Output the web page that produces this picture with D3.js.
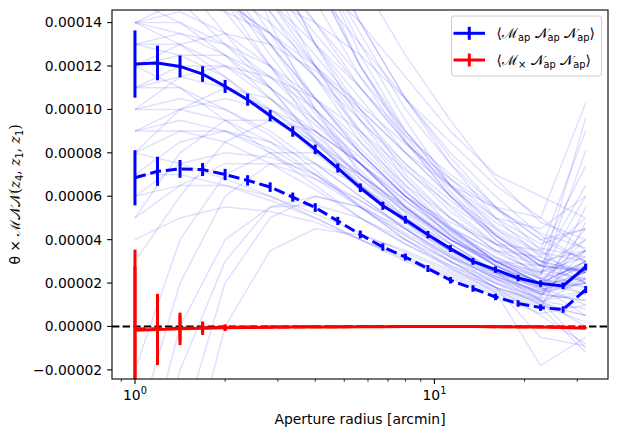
<!DOCTYPE html>
<html>
<head>
<meta charset="utf-8">
<script src="https://cdn.jsdelivr.net/npm/d3@7"></script>
<style>
  body { margin: 0; background: #fff; }
  svg { font-family: "DejaVu Sans", sans-serif; }
</style>
</head>
<body>
<svg id="chart" width="618" height="437"></svg>
<script>
// all y values are in units of 1e-5
var radii = [1, 1.189, 1.414, 1.682, 2, 2.378, 2.828, 3.364, 4, 4.757, 5.657, 6.727, 8, 9.514, 11.31, 13.45, 16, 19.03, 22.63, 26.91, 32];

var mapNN = [12.09, 12.14, 11.98, 11.63, 11.06, 10.45, 9.71, 8.98, 8.16, 7.30, 6.39, 5.56, 4.92, 4.23, 3.59, 3.00, 2.62, 2.23, 1.98, 1.87, 2.74];
var mapNNErr = [1.55, 0.80, 0.50, 0.36, 0.30, 0.28, 0.26, 0.24, 0.22, 0.21, 0.20, 0.19, 0.18, 0.17, 0.16, 0.16, 0.15, 0.15, 0.15, 0.15, 0.16];

var mapNN2 = [6.85, 7.15, 7.26, 7.23, 7.00, 6.73, 6.42, 5.96, 5.48, 4.86, 4.24, 3.66, 3.20, 2.67, 2.13, 1.75, 1.36, 1.06, 0.87, 0.78, 1.70];
var mapNN2Err = [1.27, 0.67, 0.41, 0.30, 0.26, 0.24, 0.22, 0.21, 0.20, 0.19, 0.18, 0.17, 0.16, 0.16, 0.15, 0.15, 0.15, 0.15, 0.15, 0.15, 0.16];

var mxNN = [-0.17, -0.14, -0.11, -0.08, -0.06, -0.05, -0.04, -0.03, -0.02, -0.02, -0.01, -0.01, 0, 0, 0, 0, -0.01, -0.02, -0.03, -0.05, -0.08];
var mxNNErr = [3.71, 1.64, 0.75, 0.31, 0.15, 0.06, 0.05, 0.04, 0.03, 0.03, 0.02, 0.02, 0.02, 0.02, 0.02, 0.02, 0.02, 0.02, 0.02, 0.02, 0.02];

var mxNN2 = [-0.12, -0.10, -0.08, -0.06, -0.04, -0.03, -0.02, -0.02, -0.01, -0.01, 0, 0, 0, 0, 0, 0, -0.01, -0.01, -0.02, -0.03, -0.05];
var mxNN2Err = [2.9, 1.3, 0.6, 0.25, 0.12, 0.05, 0.04, 0.03, 0.03, 0.02, 0.02, 0.02, 0.02, 0.02, 0.02, 0.02, 0.02, 0.02, 0.02, 0.02, 0.02];

// individual realisations (faint lines), sampled at every second radius
var realRadii = [1, 1.414, 2, 2.828, 4, 5.657, 8, 11.31, 16, 22.63, 32];
var realisations = [
  [25, 22, 18, 15, 12, 9, 6.5, 4.5, 3, 2, 3],
  [18, 17, 15.5, 13, 10.5, 8, 6, 4.2, 2.8, 1.8, 2.5],
  [8, 10, 11, 10.5, 9, 7.5, 5.5, 4, 3, 2.5, 3.5],
  [30, 26, 21, 17, 13, 10, 7, 5, 3.5, 2.8, 4],
  [14, 14.5, 13.5, 12, 10, 8, 6, 4.5, 3.2, 2.2, 1.5],
  [-5, 2, 6, 7.5, 7.5, 6.5, 5, 3.8, 2.5, 1.5, 2],
  [20, 19, 17, 14.5, 11.5, 8.5, 6.2, 4.5, 3.5, 3.2, 5],
  [11, 12, 12, 11, 9.5, 7.8, 6, 4.5, 3, 2, 2.2],
  [16, 15, 13, 11, 8.5, 6.5, 4.8, 3.5, 2.5, 1.8, 0.5],
  [5, 8, 9.5, 9.5, 8.5, 7, 5.5, 4, 2.8, 2, 3],
  [22, 20, 18, 16, 13.5, 11, 8.5, 6.5, 5, 4.5, 6],
  [10, 10.5, 10, 9, 7.5, 6, 4.5, 3.2, 2.2, 1.5, 1.2],
  [13, 13.5, 13, 12, 10.5, 8.5, 6.5, 5, 3.8, 3.5, 9],
  [-10, -2, 3, 5.5, 6, 5.5, 4.5, 3.3, 2.2, 1.2, 0],
  [28, 24, 19, 14, 10, 7, 5, 3.4, 2.3, 1.6, 2.5],
  [12, 12.5, 12.5, 11.5, 10, 8, 6, 4.2, 2.8, 1.8, 1],
  [17, 16.5, 15, 13.5, 11.5, 9.5, 7.5, 5.8, 4.3, 3, 2.5],
  [7, 8.5, 9, 8.5, 7.5, 6, 4.5, 3, 1.8, -0.5, -0.9],
  [19, 18, 16, 13, 10, 7.5, 5.5, 4, 3, 2.8, 6.5],
  [9, 10, 10.5, 10, 9, 7.5, 6, 4.8, 3.8, 3, 2],
  [24, 21, 18, 15, 12.5, 10, 8, 6.5, 5.5, 5, 10.3],
  [14, 14, 13, 11.5, 9.5, 7.5, 5.5, 3.8, 2.5, 1.2, -1],
  [3, 6, 8.5, 9.5, 9, 7.5, 5.8, 4.2, 3, 2.2, 2.8],
  [21, 19.5, 17, 14.5, 12, 9.5, 7.3, 5.3, 3.8, 2.8, 2.5],
  [11, 11, 10, 8.8, 7.2, 5.5, 4, 2.8, 1.8, 1.2, 1.5],
  [15, 15.5, 15, 13.5, 11.5, 9, 6.8, 5, 3.5, 2.4, 9.6],
  [-2, 4, 7, 8, 8, 7, 5.5, 4, 2.8, 2, 4.5],
  [18, 17.5, 16.5, 15, 13, 11, 8.8, 7, 5.5, 4, 3],
  [9, 9.5, 9, 8, 6.8, 5.5, 4.2, 3, 2, 1.2, 0.8],
  [26, 23, 19.5, 16, 13, 10.5, 8, 6, 4.5, 3.3, 7.4],
  [13, 13, 12, 10.5, 8.8, 7, 5.3, 3.8, 2.6, 1.7, 2],
  [6, 7.5, 8, 7.8, 7, 5.8, 4.5, 3.2, 2, 1, 0.5],
  [16, 16, 15.5, 14, 12, 9.8, 7.5, 5.5, 3.8, 2.2, 1.8],
  [10, 11.5, 12, 11.5, 10.5, 9, 7.2, 5.6, 4.2, 3, 3.5],
  [-15, -5, 2, 5, 6, 5.5, 4.2, 3, 1.8, 0.5, -0.8],
  [20, 18, 15, 12, 9, 6.8, 5, 3.5, 2.3, 1.5, 2.2],
  [12, 13, 13.5, 13, 11.8, 10, 8, 6, 4.2, 2.8, 2],
  [8, 9, 9, 8.2, 7, 5.5, 4, 2.7, 1.6, -1.8, -0.5],
  [17, 16.5, 15, 13, 10.5, 8.2, 6.2, 4.6, 3.4, 2.5, 3.2],
  [14, 13.5, 12.5, 11, 9.3, 7.5, 5.8, 4.3, 3.1, 2.3, 8.1],
  [30, 28, 25, 21, 17, 13.5, 10, 7.5, 5.5, 4, 4.5],
  [35, 32, 28, 23, 18, 14, 10.5, 7.8, 5.5, 3.5, 2],
  [22, 23, 22, 20, 17, 13, 9.5, 6.5, 4.2, 2.8, 2.5],
  [40, 34, 27, 21, 16, 12, 9, 6.5, 4.5, 3, 2.5],
  [26, 24, 21, 17, 13, 9.5, 6.8, 4.6, 3, 2, 3],
  [19, 17, 14.5, 12, 9.5, 7.2, 5.2, 3.6, 2.4, 1.6, 2],
  [15, 14, 12.5, 10.5, 8.5, 6.5, 4.8, 3.3, 2.2, 1.4, 3.5],
  [33, 27, 21, 16, 12, 8.8, 6.3, 4.4, 3, 2, 1.5],
  [12, 11, 9.5, 8, 6.5, 5, 3.8, 2.8, 2, 1.3, 5.5],
  [45, 38, 30, 23, 17, 12.5, 9, 6.5, 4.6, 3.4, 3],
  [8, 7.5, 6.8, 6, 5, 4, 3, 2.2, 1.4, 0.6, 1],
  [10, 10, 9.5, 8.5, 7, 5.6, 4.3, 3.2, 2.3, 1.6, 3],
  [17, 18, 18, 16.5, 14, 11.5, 9, 6.8, 5, 3.8, 4.5],
  [6, 6.5, 6.5, 6, 5.2, 4.3, 3.4, 2.5, 1.7, 1, 0.2],
  [21, 19, 16.5, 13.5, 10.5, 8, 6, 4.4, 3.2, 2.4, 6],
  [14, 13, 11.5, 9.8, 8, 6.3, 4.8, 3.5, 2.5, 1.8, 2.5],
  [36, 31, 25, 19.5, 15, 11.5, 8.5, 6, 4, 2.5, 1.8],
  [4, 5, 5.5, 5.3, 4.8, 4, 3.2, 2.4, 1.6, 0.9, -1.2],
  [9, 9, 8.5, 7.5, 6.3, 5, 3.8, 2.7, 1.8, 1.1, 2.2],
  [16, 17, 17.5, 17, 15.5, 13, 10.5, 8, 6, 4.2, 3],
  [20, 18, 15.5, 12.5, 9.8, 7.5, 5.6, 4.1, 3, 2.2, 3.5],
  [31, 29, 26, 22, 18, 14, 10.5, 7.5, 5, 3.2, 2.5],
  [13, 12.5, 11.5, 10, 8.4, 6.8, 5.3, 4, 2.9, 2, 4],
  [-20, -8, 0, 3.5, 4.5, 4.2, 3.5, 2.6, 1.8, 1.1, 0.5],
  [18, 16, 13.5, 11, 8.6, 6.6, 4.9, 3.5, 2.4, 1.5, 1.2],
  [11, 11.5, 11, 10, 8.6, 7, 5.4, 4, 2.8, 1.9, 2.8],
  [38, 33, 27, 21, 16, 12, 8.8, 6.2, 4.2, 2.8, 2.6],
  [7, 7, 6.5, 5.8, 5, 4, 3.1, 2.3, 1.5, 0.8, 4.8],
  [15, 15, 14.5, 13.5, 12, 10.2, 8.4, 6.8, 5.4, 4.3, 3.6],
  [-8, 0, 4, 5.5, 5.6, 5, 4, 3, 2.1, 1.3, 1.6],
  [5, 6.5, 7.5, 7.5, 6.8, 5.8, 4.6, 3.5, 2.5, 1.7, 2.3],
  [25, 23, 20, 17, 14, 11, 8.5, 6.4, 4.8, 3.6, 3.2],
  [42, 36, 29, 22, 16.5, 12, 8.6, 6, 4, 2.6, 2.2],
  [20, 20, 19, 18, 16, 14, 11.5, 9, 7, 6, 5],
  [14, 15, 15.5, 15, 14, 12.5, 10.5, 8.5, 6.5, 5, 3.5],
  [24, 24, 23, 21.5, 19, 16, 12.5, 9.5, 6.8, 4.8, 4]
];

var yTicks = [-2, 0, 2, 4, 6, 8, 10, 12, 14];
var xMajor = [1, 10];
var xMinor = [0.9, 2, 3, 4, 5, 6, 7, 8, 9, 20, 30];

var svg = d3.select("#chart");
var pLeft = 112, pRight = 608, pTop = 10, pBottom = 379;

var x = d3.scaleLog().domain([0.838, 38.0]).range([pLeft, pRight]);
var y = d3.scaleLinear().domain([-2.42, 14.58]).range([pBottom, pTop]);

svg.append("defs").append("clipPath").attr("id", "clip")
  .append("rect").attr("x", pLeft).attr("y", pTop).attr("width", pRight - pLeft).attr("height", pBottom - pTop);

var plot = svg.append("g").attr("clip-path", "url(#clip)");

var line = d3.line().x(function (d) { return x(d[0]); }).y(function (d) { return y(d[1]); });

// faint realisations
realisations.forEach(function (r) {
  plot.append("path")
    .attr("d", line(realRadii.map(function (rr, i) { return [rr, r[i]]; })))
    .attr("fill", "none").attr("stroke", "blue").attr("stroke-opacity", 0.12).attr("stroke-width", 1.5);
});

// zero line
plot.append("line").attr("x1", pLeft).attr("x2", pRight).attr("y1", y(0)).attr("y2", y(0))
  .attr("stroke", "black").attr("stroke-width", 2).attr("stroke-dasharray", "7.4,3.2");

function errSeries(vals, errs, color, dashed) {
  var pts = radii.map(function (r, i) { return [r, vals[i]]; });
  plot.append("path").attr("d", line(pts)).attr("fill", "none")
    .attr("stroke", color).attr("stroke-width", 3)
    .attr("stroke-dasharray", dashed ? "11.1,4.8" : null);
  radii.forEach(function (r, i) {
    plot.append("line").attr("x1", x(r)).attr("x2", x(r))
      .attr("y1", y(vals[i] - errs[i])).attr("y2", y(vals[i] + errs[i]))
      .attr("stroke", color).attr("stroke-width", 3);
  });
}

errSeries(mapNN, mapNNErr, "blue", false);
errSeries(mapNN2, mapNN2Err, "blue", true);
errSeries(mxNN, mxNNErr, "red", false);
errSeries(mxNN2, mxNN2Err, "red", true);

// axes frame
var axes = svg.append("g");
axes.append("rect").attr("x", pLeft).attr("y", pTop).attr("width", pRight - pLeft).attr("height", pBottom - pTop)
  .attr("fill", "none").attr("stroke", "black").attr("stroke-width", 1.1);

// y ticks
yTicks.forEach(function (t) {
  axes.append("line").attr("x1", pLeft - 4.9).attr("x2", pLeft).attr("y1", y(t)).attr("y2", y(t))
    .attr("stroke", "black").attr("stroke-width", 1.1);
  var lab = (t * 1e-5).toFixed(5);
  if (t < 0) lab = "\u2212" + (-t * 1e-5).toFixed(5);
  axes.append("text").attr("x", pLeft - 9.8).attr("y", y(t)).attr("dy", "0.35em")
    .attr("text-anchor", "end").style("font-size", "13.9px").text(lab);
});

// x ticks
xMajor.forEach(function (t, i) {
  axes.append("line").attr("x1", x(t)).attr("x2", x(t)).attr("y1", pBottom).attr("y2", pBottom + 4.9)
    .attr("stroke", "black").attr("stroke-width", 1.1);
  var tx = axes.append("text").attr("x", x(t)).attr("y", pBottom + 20.5)
    .attr("text-anchor", "middle").style("font-size", "13.9px");
  tx.append("tspan").text("10");
  tx.append("tspan").attr("dy", -6).style("font-size", "9.8px").text(String(i));
});
xMinor.forEach(function (t) {
  axes.append("line").attr("x1", x(t)).attr("x2", x(t)).attr("y1", pBottom).attr("y2", pBottom + 2.8)
    .attr("stroke", "black").attr("stroke-width", 0.8);
});

// axis labels
axes.append("text").attr("x", (pLeft + pRight) / 2).attr("y", 424)
  .attr("text-anchor", "middle").style("font-size", "13.9px").text("Aperture radius [arcmin]");

var yl = axes.append("text").attr("transform", "translate(20," + ((pTop + pBottom) / 2) + ") rotate(-90)")
  .attr("text-anchor", "middle").style("font-size", "13.9px");
yl.append("tspan").text("\u03b8 \u00d7  ");
yl.append("tspan").style("font-family", "'DejaVu Serif', serif").text("\u2133\ud835\udca9\ud835\udca9(");
yl.append("tspan").style("font-family", "'DejaVu Serif', serif").style("font-style", "italic").text("z");
yl.append("tspan").attr("dy", 3).style("font-size", "9.8px").text("4");
yl.append("tspan").attr("dy", -3).style("font-family", "'DejaVu Serif', serif").text(", ");
yl.append("tspan").style("font-family", "'DejaVu Serif', serif").style("font-style", "italic").text("z");
yl.append("tspan").attr("dy", 3).style("font-size", "9.8px").text("1");
yl.append("tspan").attr("dy", -3).style("font-family", "'DejaVu Serif', serif").text(", ");
yl.append("tspan").style("font-family", "'DejaVu Serif', serif").style("font-style", "italic").text("z");
yl.append("tspan").attr("dy", 3).style("font-size", "9.8px").text("1");
yl.append("tspan").attr("dy", -3).style("font-family", "'DejaVu Serif', serif").text(")");

// legend
var legColors = ["blue", "red"];
var legFirst = ["\u2133", "\u2133"];
var legFirstSub = ["ap", "\u00d7"];
var leg = svg.append("g");
leg.append("rect").attr("x", 451.5).attr("y", 16).attr("width", 150).attr("height", 60).attr("rx", 3)
  .attr("fill", "white").attr("fill-opacity", 0.8).attr("stroke", "#cccccc").attr("stroke-width", 1);
legColors.forEach(function (c, i) {
  var ly = 33.3 + i * 26.7;
  leg.append("line").attr("x1", 453.5).attr("x2", 485).attr("y1", ly).attr("y2", ly)
    .attr("stroke", c).attr("stroke-width", 3);
  leg.append("line").attr("x1", 469.3).attr("x2", 469.3).attr("y1", ly - 6.5).attr("y2", ly + 6.5)
    .attr("stroke", c).attr("stroke-width", 3);
  var t = leg.append("text").attr("x", 496.5).attr("y", ly).attr("dy", "0.35em").style("font-size", "13.9px");
  t.append("tspan").style("font-family", "'DejaVu Serif', serif").text("\u27e8" + legFirst[i]);
  t.append("tspan").attr("dy", 3).style("font-size", "9.8px").text(legFirstSub[i]);
  t.append("tspan").attr("dy", -3).style("font-family", "'DejaVu Serif', serif").text(" \ud835\udca9");
  t.append("tspan").attr("dy", 3).style("font-size", "9.8px").text("ap");
  t.append("tspan").attr("dy", -3).style("font-family", "'DejaVu Serif', serif").text(" \ud835\udca9");
  t.append("tspan").attr("dy", 3).style("font-size", "9.8px").text("ap");
  t.append("tspan").attr("dy", -3).style("font-family", "'DejaVu Serif', serif").text("\u27e9");
});
</script>
</body>
</html>
